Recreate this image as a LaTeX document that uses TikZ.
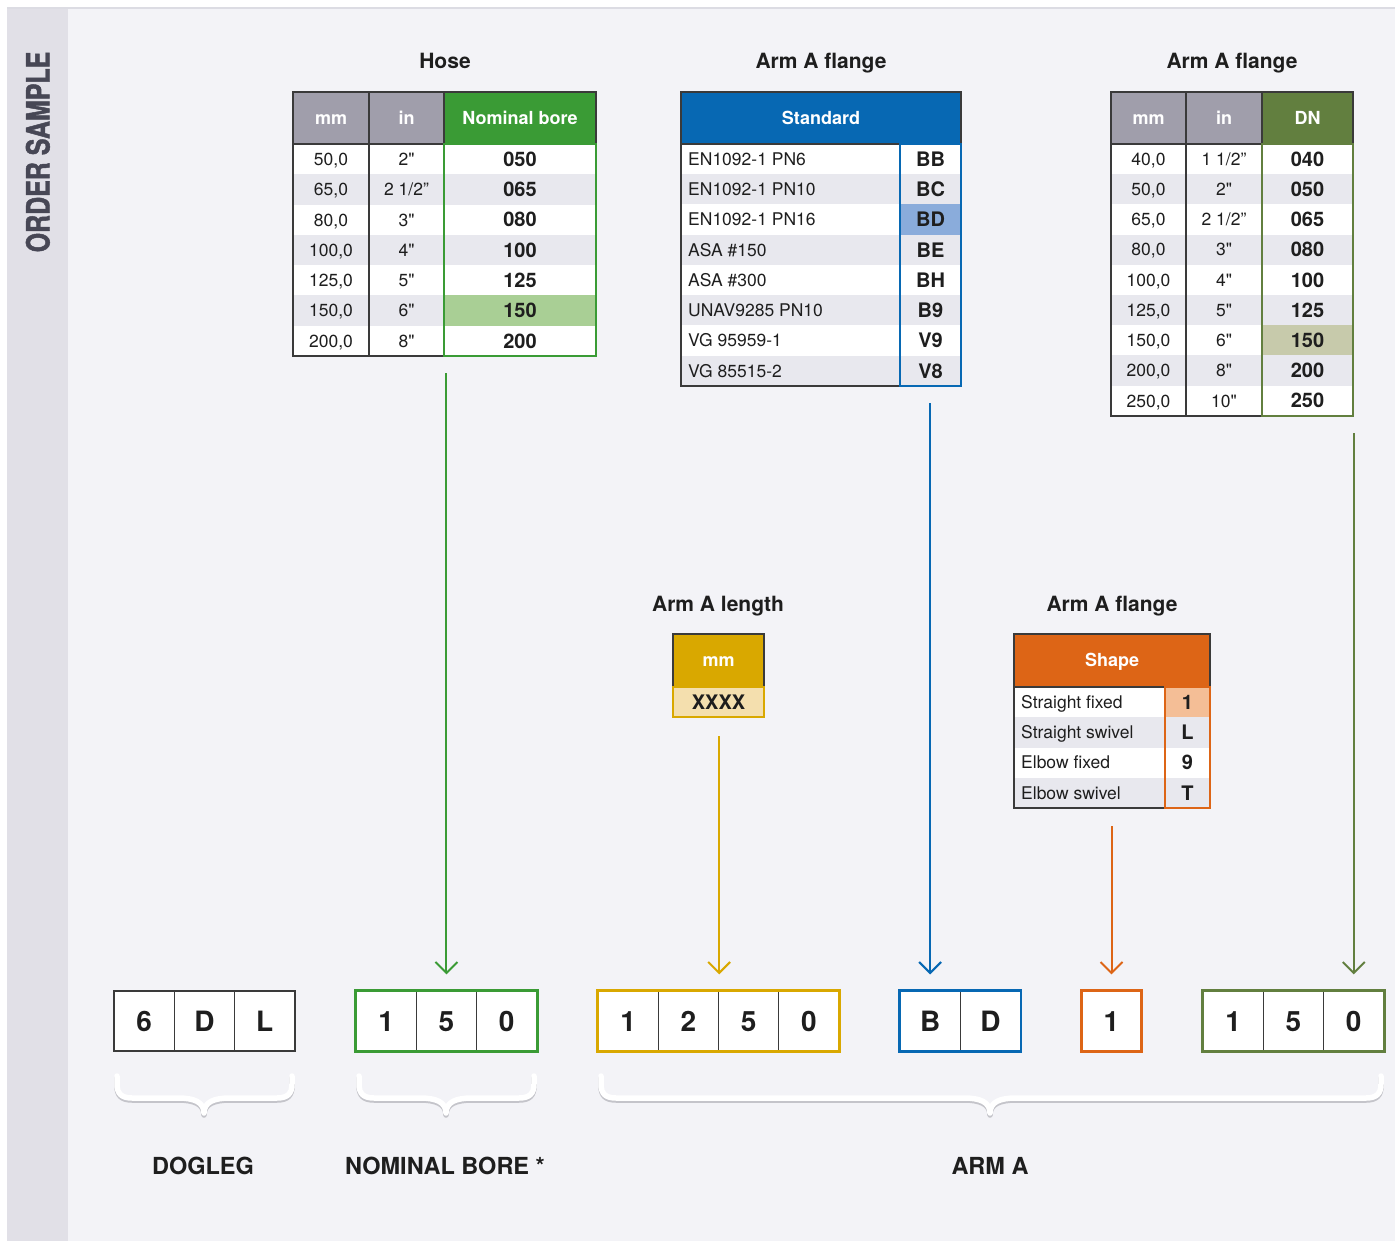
\documentclass[tikz,border=0pt]{standalone}
\usepackage{fontspec}
\setmainfont{TeX Gyre Heros}
\newfontfamily\condfont{texgyreheros-bold.otf}[FakeStretch=0.78,FakeBold=1.5]
\newfontfamily\plainfont{texgyreheros-regular.otf}
\newcommand\inq{{\plainfont\symbol{34}}}
\usetikzlibrary{arrows.meta,calc}
\definecolor{bgmain}{HTML}{F3F3F7}
\definecolor{bgside}{HTML}{E1E0E7}
\definecolor{topline}{HTML}{DCDCE3}
\definecolor{sidetext}{HTML}{474755}
\definecolor{hdrgrey}{HTML}{A09EAB}
\definecolor{rowgrey}{HTML}{E8E8EE}
\definecolor{cgreen}{HTML}{3A9B35}
\definecolor{hlgreen}{HTML}{A9CF95}
\definecolor{cblue}{HTML}{0768B3}
\definecolor{hlblue}{HTML}{8AACDB}
\definecolor{colive}{HTML}{627F3F}
\definecolor{hlolive}{HTML}{C7CAAB}
\definecolor{cyellow}{HTML}{D9A800}
\definecolor{hlyellow}{HTML}{F4DFAE}
\definecolor{corange}{HTML}{DD6516}
\definecolor{hlorange}{HTML}{F4BE96}
\definecolor{txt}{HTML}{1E1E1E}
\definecolor{frame}{HTML}{3A3A3A}
\definecolor{braceshadow}{HTML}{C4C4CA}
\tikzset{
  bodytxt/.style={font=\fontsize{17.5}{20}\selectfont, text=txt, inner sep=0pt, text height=12.6pt, text depth=0pt},
  codetxt/.style={font=\bfseries\fontsize{20}{22}\selectfont, text=txt, inner sep=0pt, text height=14.4pt, text depth=0pt},
  hdr/.style={font=\bfseries\fontsize{18}{20}\selectfont, text=white, inner sep=0pt, text height=13pt, text depth=0pt},
  ttl/.style={font=\bfseries\fontsize{21}{24}\selectfont, text=txt, inner sep=0pt, text height=15.1pt, text depth=0pt},
  lbl/.style={font=\bfseries\fontsize{23.5}{26}\selectfont, text=txt, inner sep=0pt, text height=16.9pt, text depth=0pt},
  digitbox/.style={draw=frame, line width=1.2pt, fill=white, minimum width=60.3pt, minimum height=60pt, inner sep=0pt, font=\bfseries\fontsize{28}{30}\selectfont, text=txt, text height=20.2pt, text depth=0pt},
  colbox/.style={line width=2.2pt, inner sep=0pt},
  arr/.style={line width=2pt, -{Straight Barb[length=11pt,width=22pt]}, shorten <=16pt, shorten >=16pt},
  framed/.style={draw=frame, line width=1.3pt},
}
\newcommand\hoserow[4]{%
  \node[bodytxt] (hm#1) at (331,{159.15+30.3*#1}) {#2};
  \node[bodytxt] (hi#1) at (406.5,{159.15+30.3*#1}) {#3};
  \node[codetxt] (hc#1) at (520,{159.15+30.3*#1}) {#4};}
\newcommand\stdrow[3]{%
  \node[bodytxt, anchor=west] (st#1) at (688,{159.1+30.25*#1}) {#2};
  \node[codetxt] (sc#1) at (930.5,{159.1+30.25*#1}) {#3};}
\newcommand\dnrow[4]{%
  \node[bodytxt] (dm#1) at (1148.5,{159.1+30.2*#1}) {#2};
  \node[bodytxt] (di#1) at (1224,{159.1+30.2*#1}) {#3};
  \node[codetxt] (dc#1) at (1307.5,{159.1+30.2*#1}) {#4};}
\newcommand\shaperow[3]{%
  \node[bodytxt, anchor=west] (sht#1) at (1021,{702.1+30.25*#1}) {#2};
  \node[codetxt] (shc#1) at (1187.5,{702.1+30.25*#1}) {#3};}
\newcommand\mybrace[3]{%
  \draw[braceshadow, line width=5.5pt, line cap=round, line join=round, yshift=-2pt]
    (#1+3,1076) -- (#1+3,1084) .. controls (#1+3,1094) and (#1+8,1098) .. (#1+18,1098)
    -- (#3-26,1098) .. controls (#3-10,1098) and (#3,1102) .. (#3,1113)
    .. controls (#3,1102) and (#3+10,1098) .. (#3+26,1098)
    -- (#2-18,1098) .. controls (#2-8,1098) and (#2-3,1094) .. (#2-3,1084) -- (#2-3,1076);
  \draw[white, line width=5.5pt, line cap=round, line join=round]
    (#1+3,1076) -- (#1+3,1084) .. controls (#1+3,1094) and (#1+8,1098) .. (#1+18,1098)
    -- (#3-26,1098) .. controls (#3-10,1098) and (#3,1102) .. (#3,1113)
    .. controls (#3,1102) and (#3+10,1098) .. (#3+26,1098)
    -- (#2-18,1098) .. controls (#2-8,1098) and (#2-3,1094) .. (#2-3,1084) -- (#2-3,1076);}
\begin{document}
\begin{tikzpicture}[x=1pt,y=-1pt]
\useasboundingbox (0,0) rectangle (1395,1241);
% background
\fill[white] (0,0) rectangle (1395,1241);
\fill[bgmain] (68,9) rectangle (1395,1241);
\fill[bgside] (7,9) rectangle (68,1241);
\draw[topline, line width=2pt] (7,8) -- (1395,8);
\node[rotate=90, font=\condfont\fontsize{32}{32}\selectfont, text=sidetext, inner sep=0pt, text height=23pt, text depth=0pt] (side) at (38,152) {ORDER SAMPLE};

% ---------- Hose table ----------
\node[ttl] (t1) at (445,61) {Hose};
\fill[hdrgrey] (293,92) rectangle (444,144);
\fill[cgreen] (444,92) rectangle (596,144);
\fill[white] (293,144) rectangle (596,356);
\foreach \i in {1,3,5} \fill[rowgrey] (293,{144+30.3*\i}) rectangle (596,{144+30.3*(\i+1)});
\fill[hlgreen] (444,{144+30.3*5}) rectangle (596,{144+30.3*6});
\draw[framed] (293,92) rectangle (596,356);
\draw[framed] (293,144) -- (596,144) (369,92) -- (369,356) (444,92) -- (444,144);
\node[colbox, draw=cgreen, minimum width=152pt, minimum height=212pt] (hosecol) at (520,250) {};
\node[hdr] (hh1) at (331,118) {mm};
\node[hdr] (hh2) at (406.5,118) {in};
\node[hdr] (hh3) at (520,118) {Nominal bore};
\hoserow{0}{50,0}{2\inq}{050}
\hoserow{1}{65,0}{2 1/2”}{065}
\hoserow{2}{80,0}{3\inq}{080}
\hoserow{3}{100,0}{4\inq}{100}
\hoserow{4}{125,0}{5\inq}{125}
\hoserow{5}{150,0}{6\inq}{150}
\hoserow{6}{200,0}{8\inq}{200}

% ---------- Standard table ----------
\node[ttl] (t2) at (821,61) {Arm A flange};
\fill[cblue] (681,92) rectangle (961,144);
\fill[white] (681,144) rectangle (961,386);
\foreach \i in {1,3,5,7} \fill[rowgrey] (681,{144+30.25*\i}) rectangle (961,{144+30.25*(\i+1)});
\fill[hlblue] (900,{144+30.25*2}) rectangle (961,{144+30.25*3});
\draw[framed] (681,92) rectangle (961,386);
\draw[framed] (681,144) -- (961,144);
\node[colbox, draw=cblue, minimum width=61pt, minimum height=242pt] (stdcol) at (930.5,265) {};
\node[hdr] (sh1) at (821,118) {Standard};
\stdrow{0}{EN1092-1 PN6}{BB}
\stdrow{1}{EN1092-1 PN10}{BC}
\stdrow{2}{EN1092-1 PN16}{BD}
\stdrow{3}{ASA \#150}{BE}
\stdrow{4}{ASA \#300}{BH}
\stdrow{5}{UNAV9285 PN10}{B9}
\stdrow{6}{VG 95959-1}{V9}
\stdrow{7}{VG 85515-2}{V8}

% ---------- DN table ----------
\node[ttl] (t3) at (1232,61) {Arm A flange};
\fill[hdrgrey] (1111,92) rectangle (1262,144);
\fill[colive] (1262,92) rectangle (1353,144);
\fill[white] (1111,144) rectangle (1353,416);
\foreach \i in {1,3,5,7} \fill[rowgrey] (1111,{144+30.2*\i}) rectangle (1353,{144+30.2*(\i+1)});
\fill[hlolive] (1262,{144+30.2*6}) rectangle (1353,{144+30.2*7});
\draw[framed] (1111,92) rectangle (1353,416);
\draw[framed] (1111,144) -- (1353,144) (1186,92) -- (1186,416) (1262,92) -- (1262,144);
\node[colbox, draw=colive, minimum width=91pt, minimum height=272pt] (dncol) at (1307.5,280) {};
\node[hdr] (dh1) at (1148.5,118) {mm};
\node[hdr] (dh2) at (1224,118) {in};
\node[hdr] (dh3) at (1307.5,118) {DN};
\dnrow{0}{40,0}{1 1/2”}{040}
\dnrow{1}{50,0}{2\inq}{050}
\dnrow{2}{65,0}{2 1/2”}{065}
\dnrow{3}{80,0}{3\inq}{080}
\dnrow{4}{100,0}{4\inq}{100}
\dnrow{5}{125,0}{5\inq}{125}
\dnrow{6}{150,0}{6\inq}{150}
\dnrow{7}{200,0}{8\inq}{200}
\dnrow{8}{250,0}{10\inq}{250}

% ---------- Arm A length ----------
\node[ttl] (t4) at (718,604) {Arm A length};
\node[draw=frame, line width=1.3pt, fill=cyellow, minimum width=91pt, minimum height=53pt, inner sep=0pt] (lenhdr) at (718.5,660.5) {};
\node[hdr] (lenmm) at (718.5,660) {mm};
\node[draw=cyellow, line width=2.5pt, fill=hlyellow, minimum width=91pt, minimum height=30pt, inner sep=0pt, font=\bfseries\fontsize{20}{22}\selectfont, text=txt, text height=14.4pt, text depth=0pt] (lenval) at (718.5,702) {XXXX};

% ---------- Shape table ----------
\node[ttl] (t5) at (1112,604) {Arm A flange};
\fill[corange] (1014,634) rectangle (1210,687);
\fill[white] (1014,687) rectangle (1210,808);
\foreach \i in {1,3} \fill[rowgrey] (1014,{687+30.25*\i}) rectangle (1210,{687+30.25*(\i+1)});
\fill[hlorange] (1165,687) rectangle (1210,{687+30.25});
\draw[framed] (1014,634) rectangle (1210,808);
\draw[framed] (1014,687) -- (1210,687);
\node[colbox, draw=corange, minimum width=45pt, minimum height=121pt] (shapecol) at (1187.5,747.5) {};
\node[hdr] (shh) at (1112,660) {Shape};
\shaperow{0}{Straight fixed}{1}
\shaperow{1}{Straight swivel}{L}
\shaperow{2}{Elbow fixed}{9}
\shaperow{3}{Elbow swivel}{T}

% ---------- bottom code boxes ----------
\node[digitbox] (d1) at (144.15,1021) {6};
\node[digitbox] (d2) at (204.45,1021) {D};
\node[digitbox] (d3) at (264.75,1021) {L};

\node[digitbox] (g1) at (386.15,1021) {1};
\node[digitbox] (g2) at (446.45,1021) {5};
\node[digitbox] (g3) at (506.75,1021) {0};
\draw[cgreen, line width=2.5pt] (g1.north west) rectangle (g3.south east);

\node[digitbox] (l1) at (628.1,1021) {1};
\node[digitbox] (l2) at (688.4,1021) {2};
\node[digitbox] (l3) at (748.6,1021) {5};
\node[digitbox] (l4) at (808.9,1021) {0};
\draw[cyellow, line width=2.5pt] (l1.north west) rectangle (l4.south east);

\node[digitbox] (b1) at (930.1,1021) {B};
\node[digitbox] (b2) at (990.4,1021) {D};
\draw[cblue, line width=2.5pt] (b1.north west) rectangle (b2.south east);

\node[digitbox, minimum width=59pt] (s1) at (1111.5,1021) {1};
\draw[corange, line width=2.5pt] (s1.north west) rectangle (s1.south east);

\node[digitbox] (o1) at (1233.15,1021) {1};
\node[digitbox] (o2) at (1293.45,1021) {5};
\node[digitbox] (o3) at (1353.75,1021) {0};
\draw[colive, line width=2.5pt] (o1.north west) rectangle (o3.south east);

% ---------- arrows ----------
\draw[arr, cgreen] (hosecol.south -| g2.north) -- (g2.north);
\draw[arr, cblue] (stdcol.south -| b1.north) -- (b1.north);
\draw[arr, colive] (dncol.south -| o3.north) -- (o3.north);
\draw[arr, cyellow, shorten <=18pt] (lenval.south -| l2.north east) -- (l2.north east);
\draw[arr, corange, shorten <=17pt] (shapecol.south -| s1.north) -- (s1.north);

% ---------- braces ----------
\mybrace{114}{295}{204}
\mybrace{356}{537}{446}
\mybrace{598}{1384}{990}

% ---------- labels ----------
\node[lbl] (lab1) at (203,1166) {DOGLEG};
\node[lbl] (lab2) at (445,1166) {NOMINAL BORE *};
\node[lbl] (lab3) at (990,1166) {ARM A};
\end{tikzpicture}
\end{document}
